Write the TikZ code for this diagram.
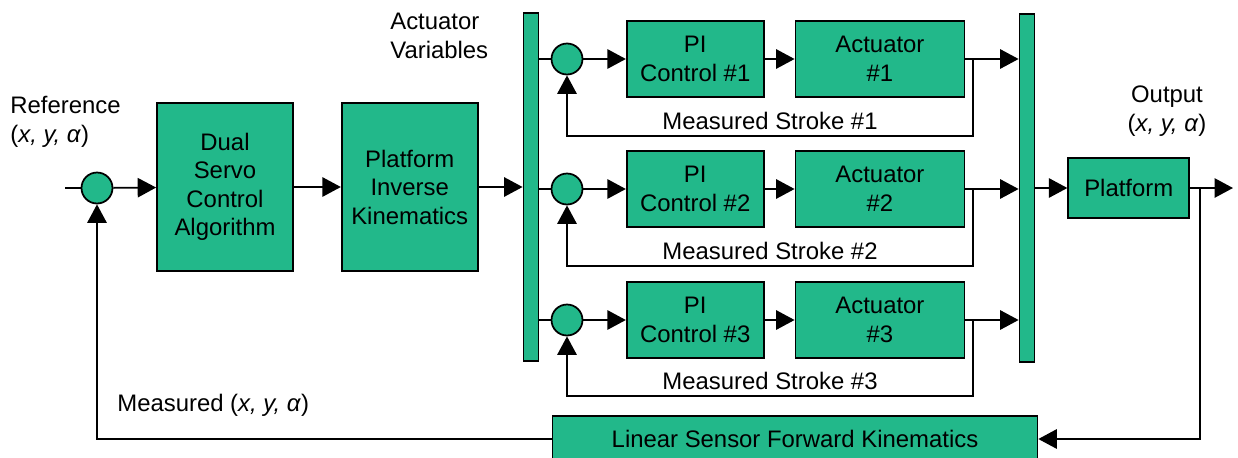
\documentclass[tikz,border=0pt]{standalone}
\usepackage{fontspec}
\setmainfont{Liberation Sans}
\usetikzlibrary{positioning, arrows.meta}
\definecolor{servogreen}{RGB}{34,184,138}

\begin{document}
\begin{tikzpicture}[
            x=0.02cm, y=-0.02cm,
            font=\fontsize{13.6pt}{16.2pt}\selectfont,
            block/.style={rectangle, draw, line width=1pt, fill=servogreen, align=center, inner sep=0pt},
            bigblock/.style={block, minimum width=2.72cm, minimum height=3.36cm},
            piblock/.style={block, minimum width=2.74cm, minimum height=1.52cm},
            actblock/.style={block, minimum width=3.38cm, minimum height=1.52cm},
            junction/.style={circle, draw, line width=1pt, fill=servogreen, minimum size=0.62cm, inner sep=0pt},
            bus/.style={rectangle, draw, line width=1pt, fill=servogreen, minimum width=0.3cm, minimum height=6.96cm, inner sep=0pt},
            textlabel/.style={inner sep=0pt, align=left},
            arrow/.style={-{Triangle[length=10.5pt, width=11pt]}, line width=1pt},
            line/.style={line width=1pt}
        ]
        \useasboundingbox (0,0) rectangle (1238,457);
        \clip (0,0) rectangle (1238,457);

        % Outer loop: reference, servo algorithm and inverse kinematics
        \coordinate (input) at (65,188);
        \node[junction] (sum) at (97,188) {};
        \node[bigblock] (dual) at (225,187) {Dual\\Servo\\Control\\Algorithm};
        \node[bigblock, right=0.94cm of dual] (inverse) {Platform\\Inverse\\Kinematics};
        \node[bus, right=0.88cm of inverse] (busin) {};

        % Actuator loops
        \node[junction] (sum1) at (567,59) {};
        \node[piblock, right=0.85cm of sum1] (pi1) {PI\\Control \#1};
        \node[actblock, right=0.6cm of pi1] (act1) {Actuator\\\#1};
        \node[junction] (sum2) at (567,189) {};
        \node[piblock, right=0.85cm of sum2] (pi2) {PI\\Control \#2};
        \node[actblock, right=0.6cm of pi2] (act2) {Actuator\\\#2};
        \node[junction] (sum3) at (567,320) {};
        \node[piblock, right=0.85cm of sum3] (pi3) {PI\\Control \#3};
        \node[actblock, right=0.6cm of pi3] (act3) {Actuator\\\#3};

        \node[bus] (busout) at (1027,188) {};
        \node[block, minimum width=2.42cm, minimum height=1.2cm, right=0.64cm of busout] (platform) {Platform};
        \node[block, minimum width=9.7cm, minimum height=0.92cm] (sensor) at (795,439) {Linear Sensor Forward Kinematics};

        % Branch points
        \coordinate (tap1) at (973,59);
        \coordinate (fb1) at (973,136);
        \coordinate (tap2) at (973,189);
        \coordinate (fb2) at (973,266);
        \coordinate (tap3) at (973,320);
        \coordinate (fb3) at (973,396);
        \coordinate (out) at (1233,188);
        \coordinate (tap) at (1200,188);

        % Labels
        \node[textlabel, anchor=west] (reflabel) at (10,122) {Reference\\(\textit{x, y, α})};
        \node[textlabel, anchor=west] (varlabel) at (390,36) {Actuator\\Variables};
        \node[textlabel, align=center] (outlabel) at (1167,111) {Output\\(\textit{x, y, α})};
        \node[textlabel, anchor=west] (measlabel) at (117,405) {Measured (\textit{x, y, α})};

        % Outer loop connections
        \draw[line] (input) -- (sum);
        \draw[arrow] (sum) -- (dual);
        \draw[arrow] (dual) -- (inverse);
        \draw[arrow] (inverse) -- (inverse -| busin.west);

        % Actuator loop connections
        \draw[line] (sum1 -| busin.east) -- (sum1);
        \draw[arrow] (sum1) -- (pi1);
        \draw[arrow] (pi1) -- (act1);
        \draw[arrow] (act1) -- (act1 -| busout.west);
        \draw[arrow] (tap1) -- (fb1) -| node[pos=0.25, above] {Measured Stroke \#1} (sum1);

        \draw[line] (sum2 -| busin.east) -- (sum2);
        \draw[arrow] (sum2) -- (pi2);
        \draw[arrow] (pi2) -- (act2);
        \draw[arrow] (act2) -- (act2 -| busout.west);
        \draw[arrow] (tap2) -- (fb2) -| node[pos=0.25, above] {Measured Stroke \#2} (sum2);

        \draw[line] (sum3 -| busin.east) -- (sum3);
        \draw[arrow] (sum3) -- (pi3);
        \draw[arrow] (pi3) -- (act3);
        \draw[arrow] (act3) -- (act3 -| busout.west);
        \draw[arrow] (tap3) -- (fb3) -| node[pos=0.25, above] {Measured Stroke \#3} (sum3);

        % Platform and sensor feedback
        \draw[arrow] (platform -| busout.east) -- (platform);
        \draw[arrow] (platform) -- (out);
        \draw[arrow] (tap) |- (sensor);
        \draw[arrow] (sensor) -| (sum);
    \end{tikzpicture}
\end{document}
